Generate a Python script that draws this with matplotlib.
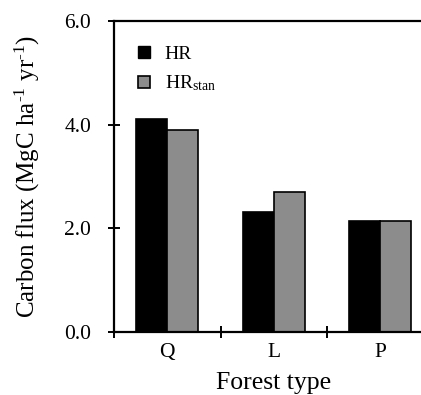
import matplotlib
matplotlib.use("Agg")
import matplotlib.pyplot as plt
import numpy as np
from matplotlib.lines import Line2D

categories = ["Q", "L", "P"]
hr = [4.11, 2.31, 2.15]
hr_stan = [3.89, 2.70, 2.14]
yticks = [0.0, 2.0, 4.0, 6.0]

plt.rcParams['font.family'] = ['Liberation Serif', 'DejaVu Serif']
plt.rcParams['mathtext.fontset'] = 'custom'
plt.rcParams['mathtext.rm'] = 'Liberation Serif'
plt.rcParams['mathtext.it'] = 'Liberation Serif:italic'

W, H = 421, 395
fig = plt.figure(figsize=(W/100, H/100), dpi=100)
left, right, top, bottom = 114, 114 + 319.5, 21, 332
ax = fig.add_axes([left/W, (H-bottom)/H, (right-left)/W, (bottom-top)/H])

x = np.arange(len(categories)) + 0.5
w = 0.29
ax.bar(x - w/2, hr, width=w, color='black', edgecolor='black', linewidth=1.2, label='HR')
ax.bar(x + w/2, hr_stan, width=w, color='#8c8c8c', edgecolor='black', linewidth=1.2, label='HR$_{\\mathrm{stan}}$')

ax.set_xlim(0, 3)
ax.set_ylim(0, 6)
ax.set_yticks(yticks)
ax.set_yticklabels([f"{v:.1f}" for v in yticks], fontsize=15.5)
ax.set_xticks([0, 1, 2, 3])
ax.set_xticklabels([])
ax.set_xticks(x, minor=True)
ax.set_xticklabels(categories, minor=True, fontsize=15.5)
ax.tick_params(axis='x', which='minor', length=0, pad=8)
ax.tick_params(axis='x', which='major', direction='inout', length=9, width=1.4)
ax.tick_params(axis='y', direction='inout', length=9, width=1.4, pad=12)

for s in ['left', 'bottom', 'top', 'right']:
    ax.spines[s].set_linewidth(1.6)

ax.set_ylabel("Carbon flux (MgC ha$^{\\text{-}1}$ yr$^{\\text{-}1}$)", fontsize=18, labelpad=16)
ax.set_xlabel("Forest type", fontsize=18.5, labelpad=7)

handles = [
    Line2D([], [], marker='s', linestyle='none', markersize=8, markerfacecolor='black', markeredgecolor='black'),
    Line2D([], [], marker='s', linestyle='none', markersize=8, markerfacecolor='#8c8c8c', markeredgecolor='black', markeredgewidth=1.2),
]
ax.legend(handles, ['HR', 'HR$_{\\mathrm{stan}}$'], loc='upper left', bbox_to_anchor=(0.01, 0.978),
          frameon=False, fontsize=14, handlelength=1.0, handletextpad=0.55, labelspacing=0.55)

fig.savefig("out.png", dpi=100)
